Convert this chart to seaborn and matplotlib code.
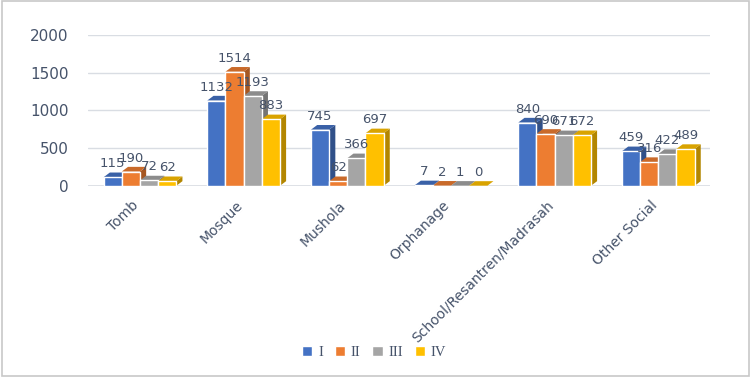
import matplotlib
matplotlib.use("Agg")
import matplotlib.pyplot as plt
from matplotlib.patches import Polygon, Rectangle
import matplotlib.colors as mcolors
import matplotlib.transforms as mtransforms
import numpy as np
import pandas as pd
import seaborn as sns

# %%
categories = ["Tomb", "Mosque", "Mushola", "Orphanage", "School/Resantren/Madrasah", "Other Social"]
series = ["I", "II", "III", "IV"]
val_I = [115, 1132, 745, 7, 840, 459]
val_II = [190, 1514, 62, 2, 690, 316]
val_III = [72, 1193, 366, 1, 671, 422]
val_IV = [62, 883, 697, 0, 672, 489]
colors = ["#4472C4", "#ED7D31", "#A5A5A5", "#FFC000"]

df = pd.DataFrame({"category": categories * 4,
                   "series": np.repeat(series, len(categories)),
                   "value": val_I + val_II + val_III + val_IV})

# %%
sns.set_style("white")
plt.rcParams["font.family"] = ["DejaVu Sans"]
text_col = "#46536a"

fig = plt.figure(figsize=(7.53, 3.77), dpi=100)
fig.patch.set_facecolor("white")
ax = fig.add_axes([0.117, 0.507, 0.826, 0.400])

sns.barplot(data=df, x="category", y="value", hue="series", palette=colors,
            width=0.70, ax=ax, legend=False, saturation=1, zorder=3)

ax.set_ylim(0, 2000)
ax.set_xlim(-0.5, len(categories) - 0.5)
ax.set_yticks([0, 500, 1000, 1500, 2000])
ax.grid(axis="y", color="#d9dde3", linewidth=1, zorder=0)
for s in ax.spines.values():
    s.set_visible(False)
ax.axhline(0, color="#d9dde3", linewidth=1.2, zorder=1)
ax.set_xlabel("")
ax.set_ylabel("")
ax.tick_params(axis="y", length=0, pad=14, labelsize=11, labelcolor=text_col)
ax.tick_params(axis="x", length=0, pad=9, labelsize=10, labelcolor=text_col)
shift = mtransforms.ScaledTranslation(-6 / 72, 0, fig.dpi_scale_trans)
for tick in ax.get_xticklabels():
    tick.set_rotation(45)
    tick.set_ha("right")
    tick.set_rotation_mode("anchor")
    tick.set_transform(tick.get_transform() + shift)

# 3D look: side and top faces derived from each bar
dx, dy = 0.06, 62
for container, c in zip(ax.containers, colors):
    dark = tuple(np.array(mcolors.to_rgb(c)) * 0.7)
    light = tuple(np.clip(np.array(mcolors.to_rgb(c)) * 0.85, 0, 1))
    for p in container.patches:
        x0, w, h = p.get_x(), p.get_width(), p.get_height()
        side = Polygon([(x0 + w, 0), (x0 + w + dx, dy), (x0 + w + dx, h + dy), (x0 + w, h)],
                       closed=True, facecolor=dark, edgecolor="none", zorder=2)
        top = Polygon([(x0, h), (x0 + dx, h + dy), (x0 + w + dx, h + dy), (x0 + w, h)],
                      closed=True, facecolor=light, edgecolor="none", zorder=2)
        ax.add_patch(side)
        ax.add_patch(top)
    ax.bar_label(container, labels=[str(int(v)) for v in container.datavalues],
                 padding=5, fontsize=9.5, color=text_col, zorder=5)

# legend
handles = [Rectangle((0, 0), 1, 1, facecolor=c) for c in colors]
fig.legend(handles, series, loc="center", bbox_to_anchor=(0.497, 0.066), ncol=4,
           frameon=False, handlelength=0.7, handleheight=0.7, handletextpad=0.4,
           columnspacing=0.8, prop={"family": "Liberation Serif", "size": 10.5},
           labelcolor=text_col)

# chart border
fig.add_artist(Rectangle((0.002, 0.003), 0.993, 0.994, transform=fig.transFigure,
                         fill=False, edgecolor="#c8c8c8", linewidth=1.2))

fig.savefig("out.png", dpi=100)
